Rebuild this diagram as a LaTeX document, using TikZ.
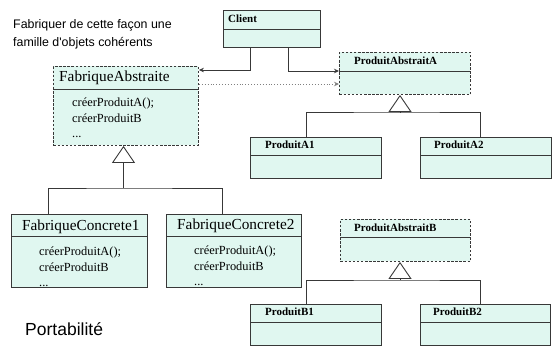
\documentclass[tikz,border=0pt]{standalone}
\usepackage{fontspec}
\setmainfont{Liberation Serif}
\newfontfamily\arial{Liberation Sans}
\usepackage{tikz}
\usetikzlibrary{positioning}
\usetikzlibrary{arrows.meta}
\definecolor{motif}{rgb}{0.88,0.97,0.94}
\definecolor{trait}{rgb}{0.22,0.22,0.22}

\tikzset{
  classe/.style={draw=trait,line width=0.9pt,fill=motif,anchor=north west,inner sep=0pt},
  abstraite/.style={classe,dash pattern=on 2.5pt off 1.6pt},
  grandtitre/.style={anchor=west,inner sep=0pt,font=\fontsize{15.3}{17}\selectfont},
  titre/.style={anchor=west,inner sep=0pt,font=\fontsize{11}{13}\selectfont\bfseries},
  methodes/.style={anchor=north west,inner sep=0pt,align=left,font=\fontsize{12.4}{15.3}\selectfont},
  lien/.style={draw=trait,line width=0.9pt},
  fleche/.style={lien,-{Stealth[length=5pt,width=4.5pt]}},
  pointille/.style={draw=gray,line width=0.9pt,dotted,-{Stealth[length=5pt,width=4.5pt]}},
  generalise/.style={lien,-{Triangle[open,length=17pt,width=23pt]}},
}

\begin{document}
\begin{tikzpicture}[x=1pt,y=-1pt]
  \useasboundingbox (0,0) rectangle (552,346);

  % Classes
  \node[classe,minimum width=97pt,minimum height=37pt] (client) at (223,10) {};
  \node[abstraite,minimum width=145pt,minimum height=79pt] (fabA) at (53,66) {};
  \node[classe,minimum width=136pt,minimum height=73pt] (fabC1) at (11,214) {};
  \node[classe,minimum width=135pt,minimum height=73pt] (fabC2) at (166,214) {};
  \node[abstraite,minimum width=131pt,minimum height=42pt] (pabsA) at (339,52) {};
  \node[classe,minimum width=131pt,minimum height=41pt] (pa1) at (250,137) {};
  \node[classe,minimum width=131pt,minimum height=41pt] (pa2) at (420,137) {};
  \node[abstraite,minimum width=130pt,minimum height=42pt] (pabsB) at (340,219) {};
  \node[classe,minimum width=131pt,minimum height=41pt] (pb1) at (250,304) {};
  \node[classe,minimum width=130pt,minimum height=41pt] (pb2) at (420,304) {};

  % Separations
  \draw[lien] (client.west |- 0,29) -- (client.east |- 0,29);
  \draw[lien] (fabA.west |- 0,89) -- (fabA.east |- 0,89);
  \draw[lien] (fabC1.west |- 0,236) -- (fabC1.east |- 0,236);
  \draw[lien] (fabC2.west |- 0,236) -- (fabC2.east |- 0,236);
  \draw[lien] (pabsA.west |- 0,71) -- (pabsA.east |- 0,71);
  \draw[lien] (pa1.west |- 0,155) -- (pa1.east |- 0,155);
  \draw[lien] (pa2.west |- 0,155) -- (pa2.east |- 0,155);
  \draw[lien] (pabsB.west |- 0,237) -- (pabsB.east |- 0,237);
  \draw[lien] (pb1.west |- 0,322) -- (pb1.east |- 0,322);
  \draw[lien] (pb2.west |- 0,322) -- (pb2.east |- 0,322);

  % Noms
  \node[titre] (tclient) at ([xshift=5pt,yshift=-9pt]client.north west) {Client};
  \node[grandtitre] (tfabA) at ([xshift=6pt,yshift=-12pt]fabA.north west) {FabriqueAbstraite};
  \node[grandtitre] (tfabC1) at ([xshift=11pt,yshift=-13pt]fabC1.north west) {FabriqueConcrete1};
  \node[grandtitre] (tfabC2) at ([xshift=11pt,yshift=-12pt]fabC2.north west) {FabriqueConcrete2};
  \node[titre] (tpabsA) at ([xshift=15pt,yshift=-9pt]pabsA.north west) {ProduitAbstraitA};
  \node[titre] (tpa1) at ([xshift=15pt,yshift=-8pt]pa1.north west) {ProduitA1};
  \node[titre] (tpa2) at ([xshift=14pt,yshift=-8pt]pa2.north west) {ProduitA2};
  \node[titre] (tpabsB) at ([xshift=14pt,yshift=-9pt]pabsB.north west) {ProduitAbstraitB};
  \node[titre] (tpb1) at ([xshift=15pt,yshift=-8pt]pb1.north west) {ProduitB1};
  \node[titre] (tpb2) at ([xshift=13pt,yshift=-8pt]pb2.north west) {ProduitB2};

  % Operations
  \node[methodes] (mfabA) at ([xshift=19pt,yshift=-32pt]fabA.north west)
    {cr\'eerProduitA();\\cr\'eerProduitB\\...};
  \node[methodes] (mfabC1) at ([xshift=28pt,yshift=-33pt]fabC1.north west)
    {cr\'eerProduitA();\\cr\'eerProduitB\\...};
  \node[methodes] (mfabC2) at ([xshift=28pt,yshift=-32pt]fabC2.north west)
    {cr\'eerProduitA();\\cr\'eerProduitB\\...};

  % Heritage
  \coordinate (jF) at (123.5,188);
  \coordinate (jA) at (400,112);
  \coordinate (jB) at (400,280);
  \draw[generalise] (jF) -- (jF |- fabA.south);
  \draw[lien] ([xshift=37pt]fabC1.north west) |- (jF) -| ([xshift=56pt]fabC2.north west);
  \draw[generalise] (jA) -- (jA |- pabsA.south);
  \draw[lien] ([xshift=56pt]pa1.north west) |- (jA) -| ([xshift=60pt]pa2.north west);
  \draw[generalise] (jB) -- (jB |- pabsB.south);
  \draw[lien] ([xshift=56pt]pb1.north west) |- (jB) -| ([xshift=60pt]pb2.north west);

  % Client et dependances
  \draw[fleche] ([xshift=27pt]client.south west) |- ([yshift=-4pt]fabA.north east);
  \draw[fleche] ([xshift=65pt]client.south west) |- ([yshift=-19pt]pabsA.north west);
  \draw[pointille] ([yshift=-18pt]fabA.north east) -- ([yshift=-18pt]fabA.north east -| pabsA.west);

  % Textes
  \node[anchor=west,inner sep=0pt,align=left,font=\arial\fontsize{12.4}{18}\selectfont] (note) at (13,34)
    {Fabriquer de cette fa\c{c}on une\\famille d'objets coh\'erents};
  \node[anchor=west,inner sep=0pt,font=\arial\fontsize{17.5}{20}\selectfont] (porta) at (25,329) {Portabilit\'e};
\end{tikzpicture}
\end{document}
